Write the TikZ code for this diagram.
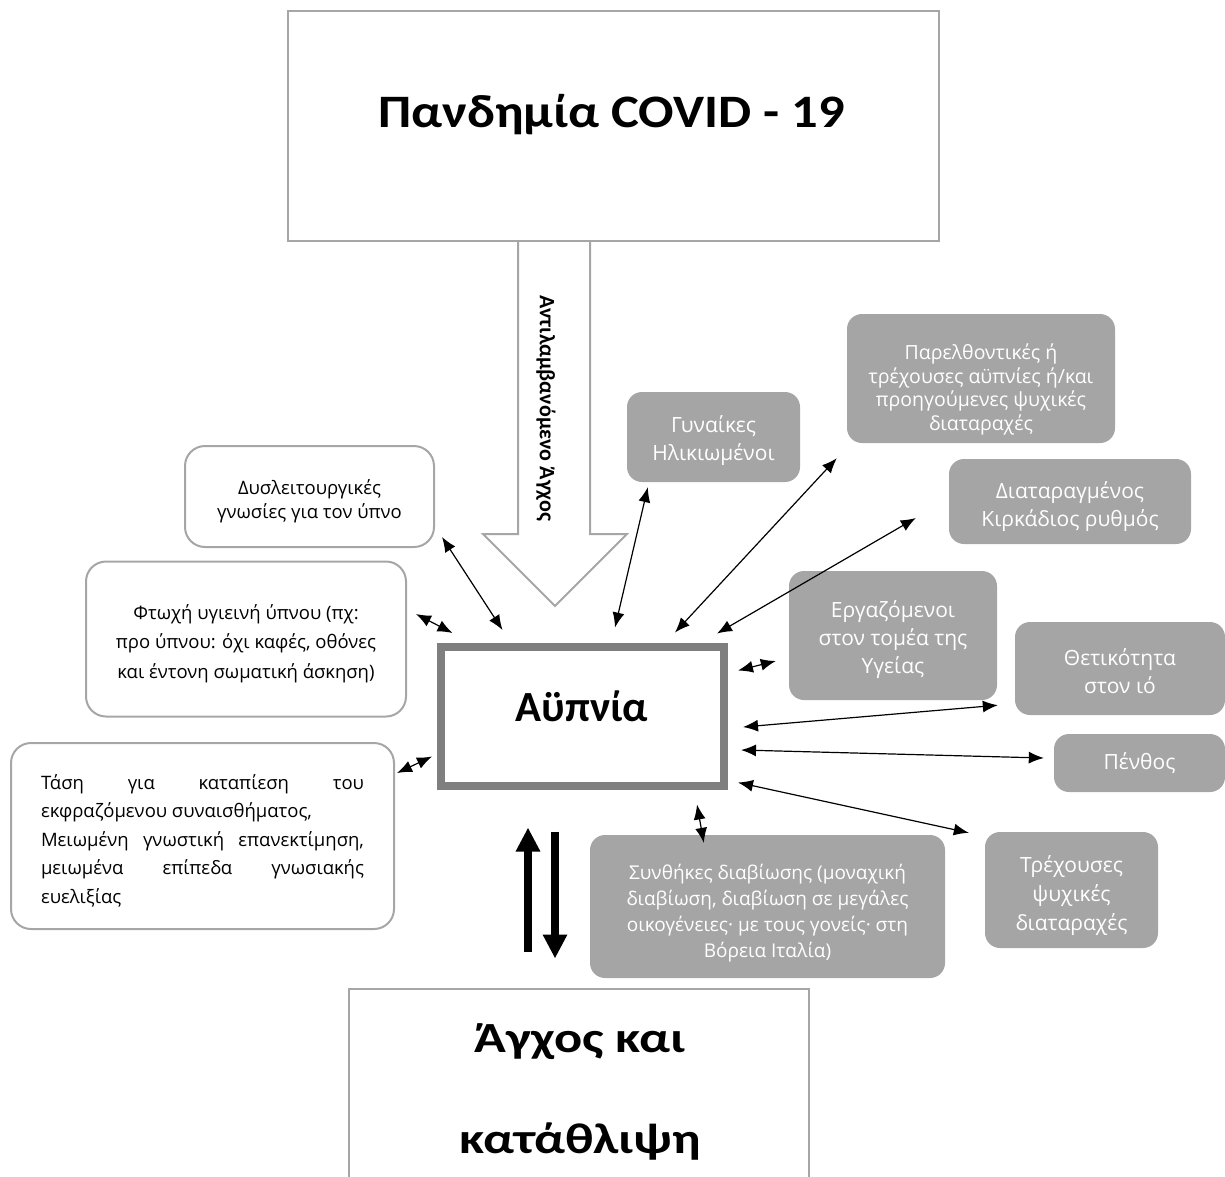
\documentclass[tikz,border=0pt]{standalone}
\usepackage{fontspec}
\setmainfont{Carlito}
\newfontfamily\osans{Open Sans}
\newfontfamily\widefont[FakeStretch=1.13]{Carlito}
\newfontfamily\widerfont[FakeStretch=1.22]{Carlito}
\usetikzlibrary{calc,arrows.meta}

\definecolor{boxline}{HTML}{A6A6A6}
\definecolor{insline}{HTML}{7F7F7F}
\definecolor{boxfill}{HTML}{A5A5A5}

% strut that pushes the first line down a little
\newcommand\topgap[1]{\rule{0pt}{#1}}

\tikzset{
  bigbold/.style={inner sep=0pt,font=\bfseries\fontsize{43}{52}\selectfont},
  plainbox/.style={draw=boxline,line width=2pt},
  whitebox/.style={draw=boxline,line width=2pt,rounded corners=20pt,align=center,
    font=\osans\fontsize{18.5}{28}\selectfont},
  graybox/.style={fill=boxfill,rounded corners=15pt,text=white,align=center,
    font=\osans\fontsize{21}{28}\selectfont},
  dbl/.style={{Latex[length=15pt,width=12pt]}-{Latex[length=15pt,width=12pt]},line width=1.2pt},
  fat/.style={-{Triangle[length=24pt,width=23pt]},line width=8pt},
  hollow/.style={draw=boxline,fill=white,line width=2pt,line join=miter},
}

\begin{document}
\begin{tikzpicture}[x=1pt,y=-1pt]
\useasboundingbox (0,0) rectangle (1225,1176);

% main boxes
\node[plainbox,minimum width=651pt,minimum height=230pt](covid)at(613.5,126){};
\node[bigbold,anchor=base,font=\widefont\bfseries\fontsize{46.5}{55}\selectfont](covidtxt)at(611.5,127){Πανδημία COVID - 19};
\node[draw=insline,line width=8pt,minimum width=283pt,minimum height=139pt](ins)at(582,716.5){};
\node[bigbold,anchor=base](instxt)at(582,721){Αϋπνία};
\node[plainbox,minimum width=460pt,minimum height=205pt](anx)at(579,1091){};
\node[bigbold,anchor=base,align=center,font=\widerfont\bfseries\fontsize{43}{101}\selectfont](anxtxt)at(580,1153)
  {Άγχος και\\κατάθλιψη};

% perceived stress arrow
\draw[hollow] ([xshift=-95.5pt]covid.south) -- ++(0,292) -- ++(-35,0) -- ++(72,72)
  -- ++(72,-72) -- ++(-37,0) -- ++(0,-292);
\node[rotate=-90,inner sep=0pt,font=\bfseries\fontsize{22}{26}\selectfont](stress)at(546,408){Αντιλαμβανόμενο Άγχος};

% left factors
\node[whitebox,minimum width=249pt,minimum height=101pt,font=\osans\fontsize{18.5}{24.5}\selectfont](dysl)at(309.5,496.5)
  {\topgap{24pt}Δυσλειτουργικές\\γνωσίες για τον ύπνο};
\node[whitebox,minimum width=320pt,minimum height=155pt,font=\osans\fontsize{18.5}{29.5}\selectfont](hyg)at(246,639)
  {\topgap{24pt}Φτωχή υγιεινή ύπνου (πχ:\\προ ύπνου: όχι καφές, οθόνες\\και έντονη σωματική άσκηση)};
\node[whitebox,minimum width=383pt,minimum height=186pt,text width=323pt,align=justify,
  font=\osans\fontsize{18.5}{28.5}\selectfont](supp)at(202.5,836)
  {\topgap{24pt}Τάση για καταπίεση του\linebreak εκφραζόμενου συναισθήματος,\\
   Μειωμένη γνωστική επανεκτίμηση,\linebreak μειωμένα επίπεδα γνωσιακής\linebreak ευελιξίας};

% right factors
\node[graybox,minimum width=173pt,minimum height=90pt](women)at(713.5,437){\topgap{25pt}Γυναίκες\\Ηλικιωμένοι};
\node[graybox,minimum width=268pt,minimum height=129pt](past)at(981,378.5){};
\node[text=white,align=center,font=\osans\fontsize{19.5}{23.5}\selectfont](pasttxt)at([yshift=-11pt]past.center)
  {Παρελθοντικές ή\\τρέχουσες αϋπνίες ή/και\\προηγούμενες ψυχικές\\διαταραχές};
\node[graybox,minimum width=242pt,minimum height=85pt](circ)at(1070,501.5){\topgap{27pt}Διαταραγμένος\\Κιρκάδιος ρυθμός};
\node[graybox,minimum width=208pt,minimum height=129pt](health)at(893,635.5){\topgap{26pt}Εργαζόμενοι\\στον τομέα της\\Υγείας};
\node[graybox,minimum width=210pt,minimum height=93pt](pos)at(1120,668.5){\topgap{22pt}Θετικότητα\\στον ιό};
\node[graybox,minimum width=171pt,minimum height=58pt](grief)at(1139.5,763){Πένθος};
\node[graybox,minimum width=355pt,minimum height=143pt,font=\osans\fontsize{19}{26}\selectfont](living)at(767.5,906.5)
  {\topgap{29pt}Συνθήκες διαβίωσης (μοναχική\\διαβίωση, διαβίωση σε μεγάλες\\οικογένειες· με τους γονείς· στη\\Βόρεια Ιταλία)};
\node[graybox,minimum width=173pt,minimum height=116pt,font=\osans\fontsize{21}{29}\selectfont](cur)at(1071.5,890)
  {\topgap{28pt}Τρέχουσες\\ψυχικές\\διαταραχές};

% connectors
\draw[dbl] ([xshift=7pt,yshift=11pt]dysl.south east) -- ([xshift=66pt,yshift=13pt]ins.north west);
\draw[dbl] ([xshift=9pt,yshift=25pt]hyg.east) -- ([xshift=16pt,yshift=10pt]ins.north west);
\draw[dbl] ([xshift=2pt,yshift=-31pt]supp.north east) -- ([xshift=-4.5pt,yshift=33.5pt]ins.south west);
\draw[dbl] ([xshift=21pt,yshift=-5pt]women.south west) -- ([xshift=33pt,yshift=15.5pt]ins.north);
\draw[dbl] ([xshift=-10pt,yshift=-15pt]past.south west) -- ([xshift=93pt,yshift=10.5pt]ins.north);
\draw[dbl] ([xshift=-33pt,yshift=-16.5pt]circ.west) -- ([xshift=-10.5pt,yshift=9.5pt]ins.north east);
\draw[dbl] ([xshift=10.5pt,yshift=-27.5pt]ins.north east) -- ([xshift=-13pt,yshift=-25.5pt]health.west);
\draw[dbl] ([xshift=15.5pt,yshift=-10.5pt]ins.east) -- ([xshift=-17pt,yshift=10pt]pos.south west);
\draw[dbl] ([xshift=13.5pt,yshift=-33.5pt]ins.east) -- ([xshift=-10pt,yshift=5pt]grief.west);
\draw[dbl] ([xshift=10.5pt,yshift=7.5pt]ins.south east) -- ([xshift=-16pt,yshift=-1pt]cur.north west);
\draw[dbl] ([xshift=-30.5pt,yshift=-14.5pt]ins.south east) -- ([xshift=114pt,yshift=-8pt]living.north west);

% insomnia <-> anxiety
\draw[fat] ([xshift=-51pt,yshift=36pt]anx.north) -- ([xshift=-54pt,yshift=-37.5pt]ins.south);
\draw[fat] ([xshift=-27pt,yshift=-41.5pt]ins.south) -- ([xshift=-24pt,yshift=29pt]anx.north);
\end{tikzpicture}
\end{document}
